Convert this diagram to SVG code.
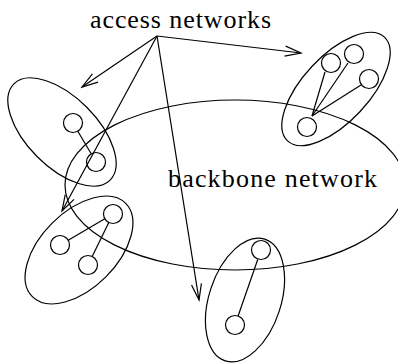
<svg xmlns="http://www.w3.org/2000/svg" width="398" height="364" viewBox="0 0 398 364">
<style>
.s{fill:none;stroke:#000;stroke-width:1.2}
.t{font-size:26px;fill:#000}
</style>
<defs>
<marker id="ah" markerUnits="userSpaceOnUse" markerWidth="20" markerHeight="14" viewBox="-17 -7 20 14" refX="0" refY="0" orient="auto">
<path d="M-16,-5 L0,0 L-16,5" fill="none" stroke="#000" stroke-width="1.2"/>
</marker>
</defs>
<rect width="398" height="364" fill="#fff"/>
<g id="backbone">
<ellipse class="s" cx="235" cy="185" rx="170" ry="85"/>
<text class="t" font-family="Liberation Serif, serif" x="168" y="187" textLength="209" lengthAdjust="spacing">backbone network</text>
</g>
<g id="access-label">
<text class="t" font-family="Liberation Serif, serif" x="90" y="28" textLength="181" lengthAdjust="spacing">access networks</text>
</g>
<g id="net-left">
<ellipse class="s" cx="62" cy="132" rx="68" ry="35" transform="rotate(45 62 132)"/>
<circle class="s" cx="73" cy="123" r="9.5"/>
<circle class="s" cx="96" cy="162" r="9.5"/>
<line class="s" x1="77.8" y1="131.2" x2="91.2" y2="153.8"/>
</g>
<g id="net-topright">
<ellipse class="s" cx="336" cy="89" rx="71" ry="33" transform="rotate(-47 336 89)"/>
<circle class="s" cx="331" cy="63" r="9.5"/>
<circle class="s" cx="354" cy="54" r="9.5"/>
<circle class="s" cx="369" cy="79" r="9.5"/>
<circle class="s" cx="307" cy="127" r="9.5"/>
<line class="s" x1="312" y1="116" x2="325" y2="72"/>
<line class="s" x1="312" y1="116" x2="348" y2="63"/>
<line class="s" x1="312" y1="116" x2="361" y2="85"/>
</g>
<g id="net-bottomleft">
<ellipse class="s" cx="79" cy="250" rx="66" ry="38" transform="rotate(-45 79 250)"/>
<circle class="s" cx="113" cy="214" r="9.5"/>
<circle class="s" cx="60" cy="245" r="9.5"/>
<circle class="s" cx="88" cy="265" r="9.5"/>
<line class="s" x1="104.8" y1="218.8" x2="68.2" y2="240.2"/>
<line class="s" x1="108.8" y1="222.5" x2="92.2" y2="256.5"/>
</g>
<g id="net-bottom">
<ellipse class="s" cx="245" cy="300" rx="64" ry="36" transform="rotate(-72 245 300)"/>
<circle class="s" cx="261" cy="250" r="9.5"/>
<circle class="s" cx="235" cy="325" r="9.5"/>
<line class="s" x1="257.9" y1="259" x2="238.1" y2="316"/>
</g>
<g id="connectors">
<line class="s" x1="157" y1="36" x2="82" y2="87" marker-end="url(#ah)"/>
<line class="s" x1="157" y1="36" x2="301" y2="53" marker-end="url(#ah)"/>
<line class="s" x1="157" y1="36" x2="62" y2="211" marker-end="url(#ah)"/>
<line class="s" x1="157" y1="36" x2="199" y2="300" marker-end="url(#ah)"/>
</g>
</svg>
